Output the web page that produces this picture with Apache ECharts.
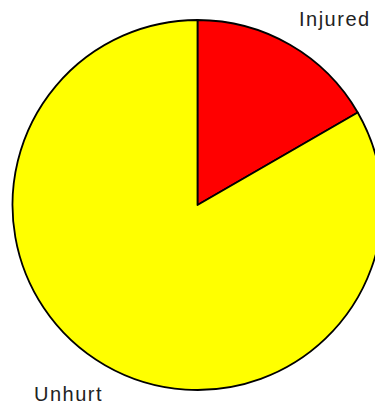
<!DOCTYPE html>
<html>
<head>
<meta charset="utf-8">
<style>
  html, body { margin: 0; padding: 0; background: #fff; }
  #chart { width: 375px; height: 404px; }
  /* spaced-out slice names */
  #chart svg text { letter-spacing: 1.5px; }
</style>
<script src="https://cdn.jsdelivr.net/npm/echarts@6/dist/echarts.min.js"></script>
</head>
<body>
<div id="chart"></div>
<script>
// Outcome counts
const categories = ['Injured', 'Unhurt'];
const values = [1, 5];
const colors = ['#ff0000', '#ffff00'];

// Where each slice's name is written
const labelSpots = [
  { x: 299, y: 19 },
  { x: 34, y: 393.5 }
];

const chart = echarts.init(document.getElementById('chart'), null, { renderer: 'svg' });

chart.setOption({
  animation: false,
  backgroundColor: '#ffffff',
  series: [{
    type: 'pie',
    center: [197.5, 205],
    radius: [0, 185],
    startAngle: 90,
    clockwise: true,
    silent: true,
    data: categories.map((name, i) => ({
      name: name,
      value: values[i],
      itemStyle: { color: colors[i] }
    })),
    itemStyle: { borderColor: '#000', borderWidth: 1.8 },
    label: {
      show: true,
      formatter: '{b}',
      fontFamily: 'Liberation Sans',
      fontSize: 20,
      color: '#222',
      overflow: 'none',
      width: 120
    },
    labelLine: { show: false },
    labelLayout: function (params) {
      const spot = labelSpots[params.dataIndex];
      return { x: spot.x, y: spot.y, align: 'left', verticalAlign: 'middle', width: 120 };
    }
  }]
});
</script>
</body>
</html>
